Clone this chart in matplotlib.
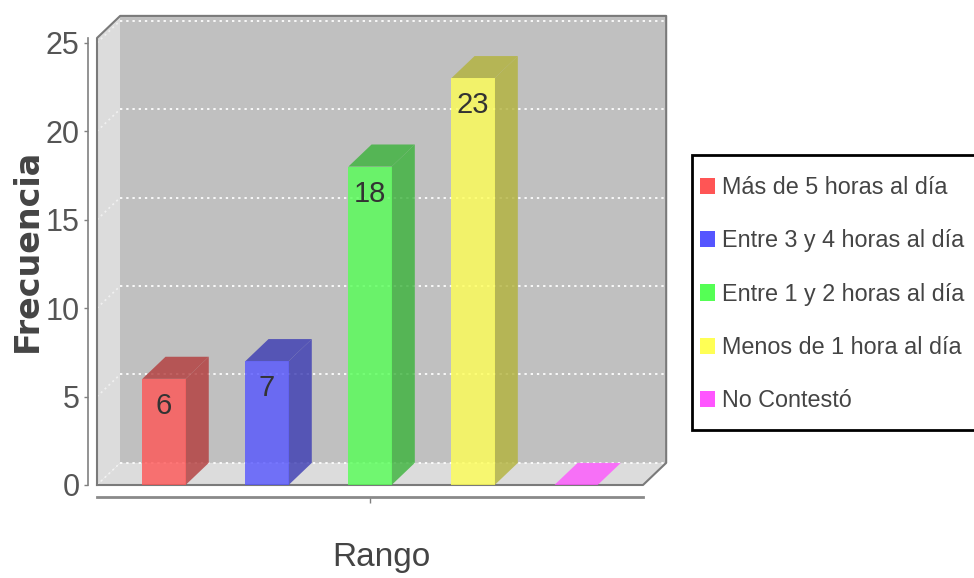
import numpy as np
import matplotlib.pyplot as plt
from matplotlib.patches import Polygon, Rectangle, Patch
from matplotlib.colors import to_rgb

# datos
series = ['Más de 5 horas al día', 'Entre 3 y 4 horas al día',
          'Entre 1 y 2 horas al día', 'Menos de 1 hora al día', 'No Contestó']
values = [6, 7, 18, 23, 0]
colors = ['#ff5555', '#5555ff', '#55ff55', '#ffff55', '#ff55ff']
yticks = [0, 5, 10, 15, 20, 25]

FONT = ['Liberation Sans', 'DejaVu Sans']

W, H = 974, 578
fig = plt.figure(figsize=(W / 100, H / 100), dpi=100)
ax = fig.add_axes([97 / W, 1 - 485 / H, 546 / W, 447 / H])
x0, x1 = -0.65, 4.65
y1 = 25.27
ax.set_xlim(x0, x1)
ax.set_ylim(0, y1)
ax.patch.set_visible(False)

# profundidad 3D en unidades de datos
dx, dy = 0.225, 1.25

# paredes y piso
walls = [
    ([(x0, 0), (x0, y1), (x0 + dx, y1 + dy), (x0 + dx, dy)], '#dcdcdc'),
    ([(x0 + dx, dy), (x0 + dx, y1 + dy), (x1 + dx, y1 + dy), (x1 + dx, dy)], '#c0c0c0'),
    ([(x0, 0), (x1, 0), (x1 + dx, dy), (x0 + dx, dy)], '#dcdcdc'),
]
for pts, c in walls:
    ax.add_patch(Polygon(pts, closed=True, facecolor=c, edgecolor='none',
                         clip_on=False, zorder=0))

# lineas de cuadricula
for v in yticks:
    ax.plot([x0 + dx, x1 + dx], [v + dy, v + dy], color='white', lw=1.4,
            dashes=(1.2, 2.0), clip_on=False, zorder=1, alpha=0.9)
    ax.plot([x0, x0 + dx], [v, v + dy], color='white', lw=1.2,
            dashes=(1.2, 2.0), clip_on=False, zorder=1, alpha=0.6)

# contorno
ox = [x0, x0, x0 + dx, x1 + dx, x1 + dx, x1, x0]
oy = [0, y1, y1 + dy, y1 + dy, dy, 0, 0]
ax.plot(ox, oy, color='#7a7a7a', lw=1.5, clip_on=False, zorder=2)

# barras
w = 0.42
for i, (v, c) in enumerate(zip(values, colors)):
    base = np.array(to_rgb(c))
    dark = base * 0.7
    top_c = base if v == 0 else dark
    side = [(i + w / 2, 0), (i + w / 2 + dx, dy), (i + w / 2 + dx, v + dy), (i + w / 2, v)]
    top = [(i - w / 2, v), (i + w / 2, v), (i + w / 2 + dx, v + dy), (i - w / 2 + dx, v + dy)]
    ax.add_patch(Polygon(side, facecolor=dark, alpha=0.8, edgecolor='none',
                         clip_on=False, zorder=3))
    ax.add_patch(Polygon(top, facecolor=top_c, alpha=0.8, edgecolor='none',
                         clip_on=False, zorder=3))
    ax.add_patch(Rectangle((i - w / 2, 0), w, v, facecolor=base, alpha=0.8,
                           edgecolor='none', clip_on=False, zorder=4))
    if v > 0:
        ax.annotate(str(v), (i, v), xytext=(0, -27), textcoords='offset pixels',
                    ha='center', va='center', fontsize=21, family=FONT,
                    color='#333333', zorder=5)

# ejes
for s in ['top', 'right']:
    ax.spines[s].set_visible(False)
ax.spines['left'].set_position(('outward', 6.5))
ax.spines['left'].set_color('#808080')
ax.spines['left'].set_linewidth(1.2)
ax.spines['bottom'].set_position(('outward', 8.6))
ax.spines['bottom'].set_color('#8a8a8a')
ax.spines['bottom'].set_linewidth(2)

ax.set_yticks(yticks)
ax.set_yticklabels([str(t) for t in yticks], family=FONT, fontsize=22,
                   color='#555555')
ax.set_xticks([2])
ax.set_xticklabels([''])
ax.tick_params(axis='y', length=3, width=1, color='#808080', pad=3)
ax.tick_params(axis='x', length=4, width=1, color='#808080')

ax.set_xlabel('Rango', family=FONT, fontsize=24, color='#444444')
ax.xaxis.label.set_va('center')
ax.xaxis.set_label_coords(0.52, -0.163)
ax.set_ylabel('Frecuencia', family='DejaVu Sans', fontweight='bold',
              fontsize=24, color='#444444')
ax.yaxis.label.set_va('center')
ax.yaxis.set_label_coords(-0.128, 0.526)

# leyenda: marco aparte, cortado en el borde derecho como en el original
fig.add_artist(Rectangle((692 / W, 1 - 430 / H), 320 / W, 275 / H,
                         transform=fig.transFigure, facecolor='white',
                         edgecolor='black', lw=2, zorder=5))
handles = [Patch(facecolor=c, edgecolor='none') for c in colors]
leg = fig.legend(handles, series, loc='upper left',
                 bbox_to_anchor=(700 / W, 1 - 176 / H),
                 bbox_transform=fig.transFigure, borderaxespad=0,
                 prop={'family': FONT, 'size': 16.8}, labelcolor='#444444',
                 handlelength=0.64, handleheight=0.72, handletextpad=0.3,
                 labelspacing=1.3, borderpad=0, frameon=False)
leg.set_zorder(6)

fig.savefig('out.png', dpi=100)
